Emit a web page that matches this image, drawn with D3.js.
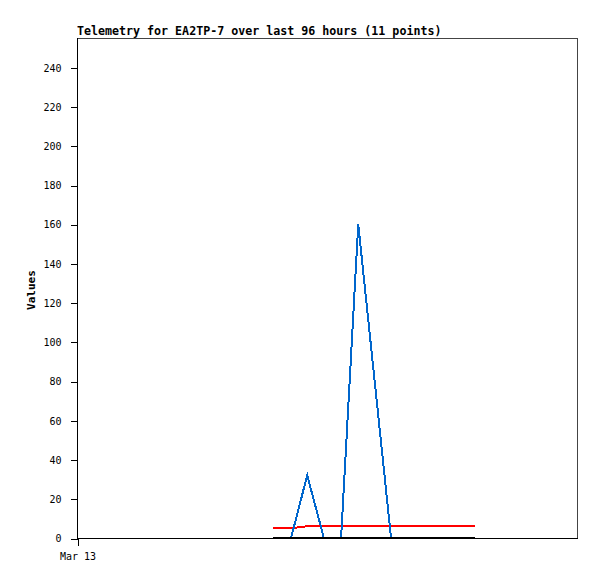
<!DOCTYPE html>
<html>
<head>
<meta charset="utf-8">
<script src="https://cdn.jsdelivr.net/npm/d3@7"></script>
<style>
  html, body { margin: 0; padding: 0; background: #fff; }
  svg { display: block; }
</style>
</head>
<body>
<svg id="chart" width="597" height="579"></svg>
<script>
// ---- data ----
const title = "Telemetry for EA2TP-7 over last 96 hours (11 points)";
const yLabel = "Values";
const windowHours = 96;
const startLabel = "Mar 13";
// hours after window start for each of the 11 points
const hours = [37.6, 41.1, 44.2, 47.4, 50.7, 54.0, 60.3, 64.3, 68.3, 72.4, 76.4];
const seriesBlue  = [0, 0, 32, 0, 0, 160, 0, 0, 0, 0, 0];
const seriesRed   = [5, 5, 6, 6, 6, 6, 6, 6, 6, 6, 6];
const seriesBlack = [0, 0, 0, 0, 0, 0, 0, 0, 0, 0, 0];
const yTicks = [0, 20, 40, 60, 80, 100, 120, 140, 160, 180, 200, 220, 240];
const yMax = 255;

// ---- layout ----
const mLeft = 77, mRight = 577, mTop = 38, mBottom = 538;
const svg = d3.select("#chart");

const start = new Date(2024, 2, 13, 0, 0, 0);
const toDate = h => new Date(start.getTime() + h * 3600e3);
const x = d3.scaleTime()
  .domain([start, toDate(windowHours)])
  .range([mLeft, mRight]);
const y = d3.scaleLinear().domain([0, yMax]).range([mBottom, mTop]);

// frame
svg.append("rect")
  .attr("x", mLeft + 0.5).attr("y", mTop + 0.5)
  .attr("width", mRight - mLeft).attr("height", mBottom - mTop)
  .attr("fill", "none").attr("stroke", "#444").attr("stroke-width", 1)
  .attr("shape-rendering", "crispEdges");

// lines
const line = d3.line()
  .x((d, i) => x(toDate(hours[i])))
  .y(d => y(d));

function drawSeries(vals, color) {
  svg.append("path")
    .datum(vals)
    .attr("d", line)
    .attr("fill", "none")
    .attr("stroke", color)
    .attr("stroke-width", 2)
    .attr("shape-rendering", "crispEdges");
}
drawSeries(seriesRed, "#ff0000");
drawSeries(seriesBlue, "#0066cc");
drawSeries(seriesBlack, "#000000");

// y axis
const yAxis = d3.axisLeft(y).tickValues(yTicks).tickSize(7).tickPadding(9);
const gy = svg.append("g").attr("transform", `translate(${mLeft + 0.5},0.5)`).call(yAxis);
gy.select(".domain").remove();
gy.selectAll("line").attr("stroke", "#000").attr("shape-rendering", "crispEdges");
gy.selectAll("text")
  .attr("font-family", "DejaVu Sans Mono, monospace")
  .attr("font-size", "10px")
  .attr("fill", "#000");

// x axis
const xAxis = d3.axisBottom(x).tickValues([start]).tickFormat(() => startLabel).tickSize(7).tickPadding(7);
const gx = svg.append("g").attr("transform", `translate(0.5,${mBottom + 0.5})`).call(xAxis);
gx.select(".domain").remove();
gx.selectAll("line").attr("stroke", "#000").attr("shape-rendering", "crispEdges");
gx.selectAll("text")
  .attr("font-family", "DejaVu Sans Mono, monospace")
  .attr("font-size", "10px")
  .attr("fill", "#000");

// axis lines (left and bottom, black)
svg.append("line")
  .attr("x1", mLeft + 0.5).attr("x2", mLeft + 0.5)
  .attr("y1", mTop).attr("y2", mBottom + 1)
  .attr("stroke", "#000").attr("shape-rendering", "crispEdges");
svg.append("line")
  .attr("x1", mLeft).attr("x2", mRight + 1)
  .attr("y1", mBottom + 0.5).attr("y2", mBottom + 0.5)
  .attr("stroke", "#000").attr("shape-rendering", "crispEdges");

// title
svg.append("text")
  .attr("x", mLeft).attr("y", 35)
  .attr("font-family", "DejaVu Sans Mono, monospace")
  .attr("font-weight", "bold")
  .attr("font-size", "11.65px")
  .attr("fill", "#000")
  .text(title);

// y label
svg.append("text")
  .attr("transform", `translate(35,${(mTop + mBottom) / 2 + 2}) rotate(-90)`)
  .attr("text-anchor", "middle")
  .attr("font-family", "DejaVu Sans Mono, monospace")
  .attr("font-weight", "bold")
  .attr("font-size", "11px")
  .attr("fill", "#000")
  .text(yLabel);
</script>
</body>
</html>
